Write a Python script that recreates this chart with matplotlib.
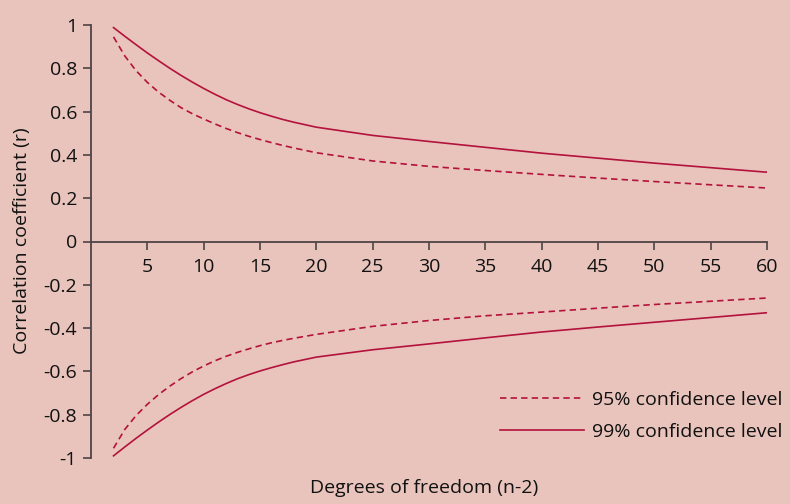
import matplotlib
matplotlib.use("Agg")
import matplotlib.pyplot as plt
from matplotlib.ticker import FixedLocator, FixedFormatter

# Degrees of freedom (n-2)
df = [2, 3, 4, 5, 6, 7, 8, 9, 10, 11, 12, 13, 14, 15, 16, 17, 18, 20,
      25, 30, 35, 40, 45, 50, 55, 60]

# Critical correlation coefficients, upper (positive) branch
upper_95 = [0.945, 0.857, 0.789, 0.735, 0.690, 0.652, 0.618, 0.590, 0.566, 0.543,
            0.522, 0.503, 0.486, 0.471, 0.457, 0.444, 0.432, 0.410,
            0.372, 0.347, 0.328, 0.310, 0.293, 0.277, 0.262, 0.247]
upper_99 = [0.988, 0.948, 0.909, 0.871, 0.835, 0.800, 0.767, 0.736, 0.707, 0.680,
            0.655, 0.633, 0.613, 0.595, 0.579, 0.564, 0.551, 0.528,
            0.490, 0.462, 0.435, 0.408, 0.385, 0.362, 0.341, 0.320]

# Lower (negative) branch
lower_95 = [-0.955, -0.868, -0.804, -0.752, -0.707, -0.668, -0.633, -0.602, -0.575, -0.551,
            -0.530, -0.512, -0.496, -0.481, -0.468, -0.457, -0.447, -0.429,
            -0.392, -0.365, -0.343, -0.326, -0.308, -0.291, -0.276, -0.261]
lower_99 = [-0.990, -0.949, -0.909, -0.871, -0.834, -0.799, -0.766, -0.735, -0.706, -0.680,
            -0.656, -0.634, -0.615, -0.598, -0.583, -0.569, -0.556, -0.534,
            -0.500, -0.473, -0.445, -0.418, -0.395, -0.373, -0.351, -0.329]

x_ticks = [5, 10, 15, 20, 25, 30, 35, 40, 45, 50, 55, 60]
y_ticks = [1, 0.8, 0.6, 0.4, 0.2, 0, -0.2, -0.4, -0.6, -0.8, -1]
y_tick_labels = ["1", "0.8", "0.6", "0.4", "0.2", "0", "-0.2", "-0.4", "-0.6", "-0.8", "-1"]

series_labels = ["95% confidence level", "99% confidence level"]

BG = "#e9c4bc"
LINE = "#b3123c"
AXIS = "#4d4446"
TEXT = "#111111"
FS = 14

plt.rcParams["font.family"] = ["Open Sans", "DejaVu Sans"]

W, H = 790, 504
fig = plt.figure(figsize=(W / 100, H / 100), dpi=100, facecolor=BG)
ax = fig.add_axes([91 / W, 1 - 458 / H, (767 - 91) / W, (458 - 25) / H])
ax.set_facecolor(BG)

lw = 1.2
dashes = (4.6 / lw, 3.0 / lw)
ax.plot(df, upper_95, color=LINE, lw=lw, dashes=dashes, label=series_labels[0])
ax.plot(df, upper_99, color=LINE, lw=lw, label=series_labels[1])
ax.plot(df, lower_95, color=LINE, lw=lw, dashes=dashes)
ax.plot(df, lower_99, color=LINE, lw=lw)

ax.set_xlim(0, 60)
ax.set_ylim(-1, 1)

for s in ("top", "right"):
    ax.spines[s].set_visible(False)
ax.spines["bottom"].set_position(("data", 0))
for s in ("left", "bottom"):
    ax.spines[s].set_color(AXIS)
    ax.spines[s].set_linewidth(1.3)

ax.xaxis.set_major_locator(FixedLocator(x_ticks))
ax.yaxis.set_major_locator(FixedLocator(y_ticks))
ax.yaxis.set_major_formatter(FixedFormatter(y_tick_labels))
ax.tick_params(axis="both", direction="out", length=6, width=1.2, color=AXIS,
               labelsize=FS, labelcolor=TEXT)
ax.tick_params(axis="x", pad=6)
ax.tick_params(axis="y", pad=4)

fig.text(22 / W, 1 - 241 / H, "Correlation coefficient (r)", rotation=90,
         ha="center", va="center", fontsize=FS, color=TEXT)
fig.text(424 / W, 1 - 488 / H, "Degrees of freedom (n-2)",
         ha="center", va="center", fontsize=FS, color=TEXT)

leg = ax.legend(loc="center left", bbox_to_anchor=(500 / W, 1 - 416 / H),
                bbox_transform=fig.transFigure, frameon=False, fontsize=FS,
                handlelength=4.3, handletextpad=0.45, labelspacing=0.72,
                borderpad=0, borderaxespad=0)
for t in leg.get_texts():
    t.set_color(TEXT)

fig.savefig("out.png", dpi=100, facecolor=BG)
